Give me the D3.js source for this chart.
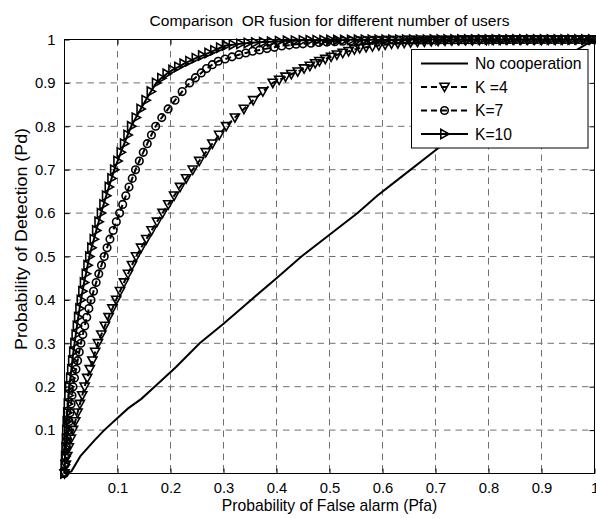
<!DOCTYPE html>
<html>
<head>
<meta charset="utf-8">
<script src="https://cdn.jsdelivr.net/npm/d3@7"></script>
<style>
  html, body { margin: 0; padding: 0; background: #fff; }
  svg { display: block; }
  text { font-family: "Liberation Sans", Arial, Helvetica, sans-serif; fill: #000; white-space: pre; }
</style>
</head>
<body>
<svg id="chart" width="596" height="518"></svg>
<script>
// ---------------- data ----------------
const title = "Comparison  OR fusion for different number of users";
const xLabel = "Probability of False alarm (Pfa)";
const yLabel = "Probability of Detection (Pd)";
const xTicks = [0.1, 0.2, 0.3, 0.4, 0.5, 0.6, 0.7, 0.8, 0.9, 1];
const yTicks = [0.1, 0.2, 0.3, 0.4, 0.5, 0.6, 0.7, 0.8, 0.9, 1];
const legendLabels = ["No cooperation", "K =4", "K=7", "K=10"];

// No cooperation (single user)
const pfaNo = [0, 0.013, 0.03, 0.057, 0.075, 0.10, 0.12, 0.145, 0.17, 0.21, 0.255, 0.30, 0.352, 0.40, 0.447, 0.50, 0.553, 0.59, 0.632, 0.70, 0.78, 0.86, 0.93, 1.0];
const pdNo  = [0, 0.005, 0.04, 0.077, 0.10, 0.128, 0.15, 0.172, 0.20, 0.245, 0.30, 0.345, 0.40, 0.45, 0.50, 0.55, 0.60, 0.64, 0.68, 0.745, 0.82, 0.89, 0.95, 1.0];

// K = 4 (down triangles, dashed)
const pfaK4 = [0, 0.0025, 0.0052, 0.0082, 0.012, 0.016, 0.0202, 0.0246, 0.029, 0.0335, 0.038, 0.0428, 0.0477, 0.0527, 0.0578, 0.063, 0.0695, 0.0762, 0.0832, 0.0903, 0.0975, 0.1048, 0.1122, 0.1198, 0.1273, 0.135, 0.1445, 0.1543, 0.1643, 0.1745, 0.185, 0.1958, 0.2068, 0.218, 0.2295, 0.242, 0.2542, 0.2665, 0.279, 0.2918, 0.305, 0.3215, 0.3385, 0.356, 0.3743, 0.393,
  0.405, 0.417, 0.428, 0.44, 0.452, 0.463, 0.473, 0.481, 0.492, 0.503, 0.514, 0.525, 0.536, 0.547, 0.557, 0.569, 0.581, 0.593, 0.605, 0.617, 0.629, 0.641, 0.653, 0.666, 0.679, 0.692, 0.705, 0.718, 0.731, 0.744, 0.757, 0.77, 0.783, 0.796,
  0.809, 0.822, 0.835, 0.848, 0.861, 0.874, 0.887, 0.9, 0.913, 0.926, 0.939, 0.952, 0.965, 0.978, 0.991, 1.0];
const pdK4  = [0, 0.02, 0.04, 0.06, 0.08, 0.10, 0.12, 0.14, 0.16, 0.18, 0.20, 0.22, 0.24, 0.26, 0.28, 0.30, 0.32, 0.34, 0.36, 0.38, 0.40, 0.42, 0.44, 0.46, 0.48, 0.50, 0.52, 0.54, 0.56, 0.58, 0.60, 0.62, 0.64, 0.66, 0.68, 0.70, 0.72, 0.74, 0.76, 0.78, 0.80, 0.82, 0.84, 0.86, 0.88, 0.90,
  0.907, 0.914, 0.92, 0.926, 0.933, 0.939, 0.945, 0.95, 0.955, 0.96, 0.965, 0.969, 0.973, 0.977, 0.98, 0.982, 0.984, 0.986, 0.988, 0.99, 0.991, 0.992, 0.993, 0.994, 0.995, 0.996, 0.9965, 0.997, 0.9975, 0.998, 0.9982, 0.9985, 0.9987, 0.999,
  0.999, 0.9991, 0.9992, 0.9993, 0.9994, 0.9995, 0.9995, 0.9996, 0.9996, 0.9997, 0.9997, 0.9998, 0.9998, 0.9999, 0.9999, 1.0];

// K = 7 (circles, dashed)
const pfaK7 = [0, 0.0012, 0.0025, 0.0039, 0.0054, 0.007, 0.0087, 0.0105, 0.0124, 0.0142, 0.016, 0.0188, 0.0217, 0.0247, 0.0278, 0.031, 0.0346, 0.0382, 0.042, 0.046, 0.050, 0.0548, 0.0597, 0.0647, 0.0698, 0.075, 0.0803, 0.0857, 0.0918, 0.0978, 0.104, 0.1098, 0.1157, 0.1217, 0.1278, 0.134, 0.1412, 0.1486, 0.1562, 0.164, 0.172, 0.1835, 0.1955, 0.2085, 0.222, 0.236,
  0.247, 0.258, 0.268, 0.279, 0.29, 0.303, 0.316, 0.329, 0.342, 0.355, 0.368, 0.382, 0.396, 0.41, 0.424, 0.437, 0.45, 0.465, 0.48, 0.495, 0.51, 0.525, 0.54, 0.555,
  0.568, 0.581, 0.594, 0.607, 0.62, 0.633, 0.646, 0.659, 0.672, 0.685, 0.698, 0.711, 0.724, 0.737, 0.75, 0.763, 0.776, 0.789, 0.802, 0.815, 0.828, 0.841, 0.854, 0.867, 0.88, 0.893, 0.906, 0.919, 0.932, 0.945, 0.958, 0.971, 0.984, 0.997];
const pdK7  = [0, 0.02, 0.04, 0.06, 0.08, 0.10, 0.12, 0.14, 0.16, 0.18, 0.20, 0.22, 0.24, 0.26, 0.28, 0.30, 0.32, 0.34, 0.36, 0.38, 0.40, 0.42, 0.44, 0.46, 0.48, 0.50, 0.52, 0.54, 0.56, 0.58, 0.60, 0.62, 0.64, 0.66, 0.68, 0.70, 0.72, 0.74, 0.76, 0.78, 0.80, 0.82, 0.84, 0.86, 0.88, 0.90,
  0.912, 0.923, 0.933, 0.942, 0.95, 0.955, 0.96, 0.965, 0.969, 0.973, 0.976, 0.979, 0.982, 0.985, 0.987, 0.989, 0.99, 0.9915, 0.993, 0.994, 0.995, 0.996, 0.9965, 0.997,
  0.9975, 0.998, 0.9982, 0.9984, 0.9986, 0.9988, 0.999, 0.999, 0.9991, 0.9992, 0.9993, 0.9994, 0.9995, 0.9995, 0.9996, 0.9996, 0.9997, 0.9997, 0.9998, 0.9998, 0.9998, 0.9999, 0.9999, 0.9999, 0.9999, 1.0, 1.0, 1.0, 1.0, 1.0, 1.0, 1.0, 1.0, 1.0];

// K = 10 (right triangles, solid)
const pfaK10 = [0, 0.0007, 0.0014, 0.0022, 0.003, 0.0036, 0.0045, 0.0055, 0.0066, 0.0078, 0.009, 0.011, 0.013, 0.0148, 0.0168, 0.019, 0.0213, 0.0236, 0.026, 0.0285, 0.031, 0.034, 0.037, 0.0405, 0.0437, 0.047, 0.051, 0.0555, 0.06, 0.0645, 0.069, 0.0738, 0.0787, 0.0838, 0.0889, 0.094, 0.1002, 0.1064, 0.1127, 0.1192, 0.126, 0.1347, 0.1438, 0.1533, 0.1631, 0.173,
  0.183, 0.193, 0.204, 0.215, 0.225, 0.236, 0.248, 0.26, 0.272, 0.283, 0.294, 0.305, 0.318, 0.332, 0.346, 0.36, 0.375, 0.39, 0.405, 0.42, 0.435, 0.45,
  0.463, 0.476, 0.489, 0.502, 0.515, 0.528, 0.541, 0.554, 0.567, 0.58, 0.593, 0.606, 0.619, 0.632, 0.645, 0.658, 0.671, 0.684, 0.697, 0.71, 0.723, 0.736, 0.749, 0.762, 0.775, 0.788, 0.801, 0.814, 0.827, 0.84, 0.853, 0.866, 0.879, 0.892, 0.905, 0.918, 0.931, 0.944, 0.957, 0.97, 0.983, 0.996];
const pdK10  = [0, 0.02, 0.04, 0.06, 0.08, 0.10, 0.12, 0.14, 0.16, 0.18, 0.20, 0.22, 0.24, 0.26, 0.28, 0.30, 0.32, 0.34, 0.36, 0.38, 0.40, 0.42, 0.44, 0.46, 0.48, 0.50, 0.52, 0.54, 0.56, 0.58, 0.60, 0.62, 0.64, 0.66, 0.68, 0.70, 0.72, 0.74, 0.76, 0.78, 0.80, 0.82, 0.84, 0.86, 0.88, 0.90,
  0.911, 0.921, 0.93, 0.937, 0.944, 0.95, 0.957, 0.963, 0.969, 0.975, 0.981, 0.986, 0.988, 0.99, 0.992, 0.993, 0.994, 0.995, 0.996, 0.997, 0.9975, 0.998,
  0.9982, 0.9984, 0.9986, 0.9988, 0.999, 0.9991, 0.9992, 0.9993, 0.9994, 0.9995, 0.9995, 0.9996, 0.9996, 0.9997, 0.9997, 0.9998, 0.9998, 0.9998, 0.9999, 0.9999, 0.9999, 0.9999, 1.0, 1.0, 1.0, 1.0, 1.0, 1.0, 1.0, 1.0, 1.0, 1.0, 1.0, 1.0, 1.0, 1.0, 1.0, 1.0, 1.0, 1.0, 1.0, 1.0];

// ---------------- layout ----------------
const L = 64.5, R = 594.5, T = 39.5, B = 473.5;
const FONT = 15.7, TICKFONT = 14.8;

const svg = d3.select("#chart");
const x = d3.scaleLinear().domain([0, 1]).range([L, R]);
const y = d3.scaleLinear().domain([0, 1]).range([B, T]);

// grid
const grid = svg.append("g");
grid.selectAll("line.vx").data(xTicks.filter(d => d < 1)).join("line")
  .attr("x1", d => x(d)).attr("x2", d => x(d)).attr("y1", T).attr("y2", B)
  .attr("stroke", "#707070").attr("stroke-width", 1).attr("stroke-dasharray", "6.5,5");
grid.selectAll("line.hy").data(yTicks.filter(d => d < 1)).join("line")
  .attr("x1", L).attr("x2", R).attr("y1", d => y(d)).attr("y2", d => y(d))
  .attr("stroke", "#707070").attr("stroke-width", 1).attr("stroke-dasharray", "6.5,5");

// axes (MATLAB-style inward ticks on all sides)
const tickLen = 5;
const axB = d3.axisBottom(x).tickValues(xTicks).tickSizeInner(-tickLen).tickSizeOuter(0).tickPadding(9).tickFormat(d3.format("~g"));
const axL = d3.axisLeft(y).tickValues(yTicks).tickSizeInner(-tickLen).tickSizeOuter(0).tickPadding(9).tickFormat(d3.format("~g"));
const axT = d3.axisTop(x).tickValues(xTicks).tickSizeInner(-tickLen).tickSizeOuter(0).tickFormat("");
const axR = d3.axisRight(y).tickValues(yTicks).tickSizeInner(-tickLen).tickSizeOuter(0).tickFormat("");

function styleAxis(g) {
  g.select(".domain").remove();
  g.selectAll(".tick line").attr("stroke", "#000").attr("stroke-width", 1);
  g.selectAll(".tick text").attr("font-size", TICKFONT).attr("font-family", '"Liberation Sans", Arial, sans-serif').attr("fill", "#000");
}
svg.append("g").attr("transform", `translate(0,${B})`).call(axB).call(styleAxis);
svg.append("g").attr("transform", `translate(${L},0)`).call(axL).call(styleAxis);
svg.append("g").attr("transform", `translate(0,${T})`).call(axT).call(styleAxis);
svg.append("g").attr("transform", `translate(${R},0)`).call(axR).call(styleAxis);

// box
svg.append("rect").attr("x", L).attr("y", T).attr("width", R - L).attr("height", B - T)
  .attr("fill", "none").attr("stroke", "#000").attr("stroke-width", 1);

// ---------------- series ----------------
const zip = (a, b) => a.map((v, i) => [v, b[i]]);
const series = [
  { name: legendLabels[0], pts: zip(pfaNo, pdNo), dash: null, marker: null },
  { name: legendLabels[1], pts: zip(pfaK4, pdK4), dash: "6,4", marker: "down" },
  { name: legendLabels[2], pts: zip(pfaK7, pdK7), dash: "6,4", marker: "circle" },
  { name: legendLabels[3], pts: zip(pfaK10, pdK10), dash: null, marker: "right" }
];

const line = d3.line().x(d => x(d[0])).y(d => y(d[1]));
const S = 4.6; // marker half-size

function drawMarker(g, type, cx, cy) {
  if (type === "down") {
    g.append("path").attr("d", `M${cx - S},${cy - S * 0.8}L${cx + S},${cy - S * 0.8}L${cx},${cy + S}Z`);
  } else if (type === "right") {
    g.append("path").attr("d", `M${cx - S * 0.8},${cy - S}L${cx - S * 0.8},${cy + S}L${cx + S},${cy}Z`);
  } else if (type === "circle") {
    g.append("circle").attr("cx", cx).attr("cy", cy).attr("r", S * 0.82);
  }
}

series.forEach(s => {
  svg.append("path").datum(s.pts).attr("d", line)
    .attr("fill", "none").attr("stroke", "#000").attr("stroke-width", 2)
    .attr("stroke-dasharray", s.dash);
  if (s.marker) {
    const g = svg.append("g").attr("fill", "none").attr("stroke", "#000").attr("stroke-width", 1.6);
    s.pts.forEach(p => drawMarker(g, s.marker, x(p[0]), y(p[1])));
  }
});

// ---------------- legend ----------------
const lg = svg.append("g");
const lx = 411.5, ly = 49.5, lw = 176.5, lh = 98.5;
lg.append("rect").attr("x", lx).attr("y", ly).attr("width", lw).attr("height", lh)
  .attr("fill", "#fff").attr("stroke", "#000").attr("stroke-width", 1);
const rowY = [63.5, 87, 110.5, 134];
series.forEach((s, i) => {
  const yy = rowY[i];
  lg.append("line").attr("x1", 421).attr("x2", 468).attr("y1", yy).attr("y2", yy)
    .attr("stroke", "#000").attr("stroke-width", 2).attr("stroke-dasharray", s.dash);
  if (s.marker) {
    const g = lg.append("g").attr("fill", "none").attr("stroke", "#000").attr("stroke-width", 1.6);
    drawMarker(g, s.marker, 444.5, yy);
  }
  lg.append("text").attr("x", 475).attr("y", yy).attr("dy", "0.36em")
    .attr("font-size", FONT).text(s.name);
});

// ---------------- labels ----------------
svg.append("text").attr("x", (L + R) / 2).attr("y", 26).attr("text-anchor", "middle")
  .attr("font-size", 15.5).text(title);
svg.append("text").attr("x", (L + R) / 2).attr("y", 511).attr("text-anchor", "middle")
  .attr("font-size", FONT).text(xLabel);
svg.append("text").attr("transform", "translate(27,239) rotate(-90)")
  .attr("text-anchor", "middle").attr("font-size", FONT)
  .attr("textLength", 222).attr("lengthAdjust", "spacingAndGlyphs").text(yLabel);
</script>
</body>
</html>
